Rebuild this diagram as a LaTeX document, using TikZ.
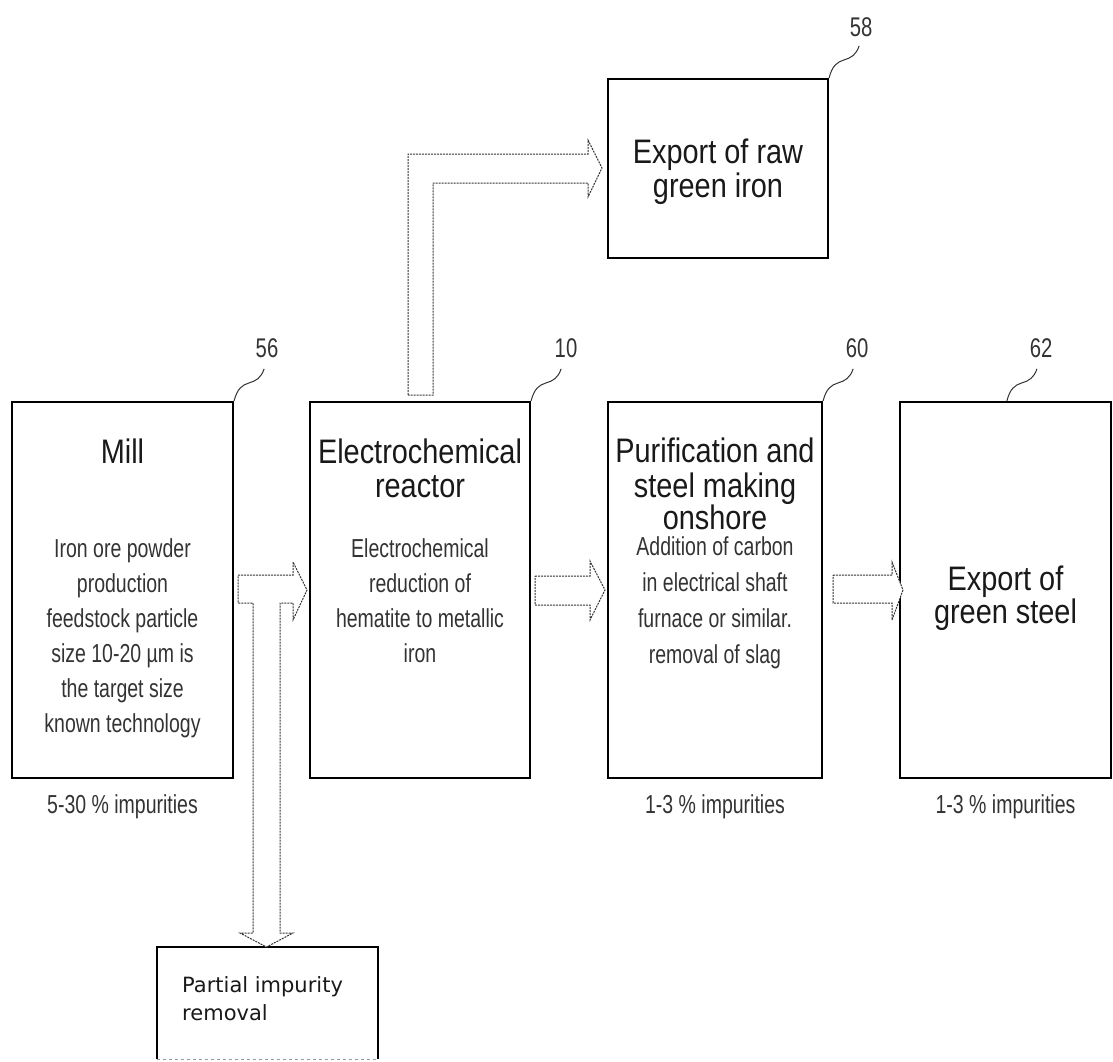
\documentclass[tikz,border=0pt]{standalone}
\usepackage{fontspec}
\setmainfont{Liberation Sans}
\newfontfamily\ttlfont[FakeStretch=0.85]{Liberation Sans}
\newfontfamily\subfnt[FakeStretch=0.75]{Liberation Sans}
\newfontfamily\verdfont{DejaVu Sans}
\usetikzlibrary{calc}
\newcommand\squig[1]{%
  \draw[leader] (#1) .. controls ($(#1)+(3,-12)$) and ($(#1)+(8,-16)$) .. ($(#1)+(15,-18)$)
     .. controls ($(#1)+(22,-20)$) and ($(#1)+(27,-23)$) .. ($(#1)+(30,-32)$);}
\begin{document}
\begin{tikzpicture}[x=1pt,y=-1pt,
  box/.style={draw=black, line width=2.2pt, inner sep=0pt},
  ttl/.style={font=\ttlfont\fontsize{34}{34}\selectfont, text=black!90, anchor=base, inner sep=0pt},
  sub/.style={font=\subfnt\fontsize{26}{26}\selectfont, text=black!80, anchor=base, inner sep=0pt},
  num/.style={font=\subfnt\fontsize{27}{27}\selectfont, text=black!80, inner sep=0pt},
  blockarrow/.style={draw=black!80, line width=1pt, dash pattern=on 2pt off 1pt, fill=white},
  leader/.style={draw=black!80, line width=1pt}]
\useasboundingbox (0,0) rectangle (1113,1061);

% boxes
\node[box, minimum width=221pt, minimum height=376pt] (mill) at (122.5,590) {};
\node[box, minimum width=220pt, minimum height=376pt] (reactor) at (420,590) {};
\node[box, minimum width=214pt, minimum height=376pt] (purif) at (715,590) {};
\node[box, minimum width=211pt, minimum height=376pt] (steel) at (1005.5,590) {};
\node[box, minimum width=220pt, minimum height=179pt] (rawiron) at (718,168.5) {};
\node[inner sep=0pt, minimum width=221pt, minimum height=112pt] (partial) at (267.5,1003) {};
\draw[line width=2.2pt] (partial.south west) -- (partial.north west) -- (partial.north east) -- (partial.south east);
\draw[line width=0.6pt, black!40, dashed] (partial.south west) -- (partial.south east);

% titles
\node[ttl] (t-mill) at (122.5,463) {Mill};
\node[ttl] (t-re1) at (420,463) {Electrochemical};
\node[ttl] (t-re2) at (420,497) {reactor};
\node[ttl] (t-pu1) at (715,462) {Purification and};
\node[ttl] (t-pu2) at (715,497) {steel making};
\node[ttl] (t-pu3) at (715,529) {onshore};
\node[ttl] (t-st1) at (1005.5,590) {Export of};
\node[ttl] (t-st2) at (1005.5,623) {green steel};
\node[ttl] (t-ri1) at (718,163) {Export of raw};
\node[ttl] (t-ri2) at (718,197) {green iron};

% sub texts
\foreach \t [count=\i] in {Iron ore powder, production, feedstock particle, size 10-20 µm is, the target size, known technology}
  \node[sub] (s-mill\i) at (122.5,557+35*\i-35) {\t};
\foreach \t [count=\i] in {Electrochemical, reduction of, hematite to metallic, iron}
  \node[sub] (s-re\i) at (420,557+35*\i-35) {\t};
\foreach \t [count=\i] in {Addition of carbon, in electrical shaft, {furnace or similar.}, removal of slag}
  \node[sub] (s-pu\i) at (715,555+36*\i-36) {\t};

\node[sub] (imp-mill) at (122.5,813) {5-30 \% impurities};
\node[sub] (imp-pu) at (715,813) {1-3 \% impurities};
\node[sub] (imp-st) at (1005.5,813) {1-3 \% impurities};

\node[font=\verdfont\fontsize{21}{28}\selectfont, text=black!90, anchor=base west, inner sep=0pt] (p1) at (182,992) {Partial impurity};
\node[font=\verdfont\fontsize{21}{28}\selectfont, text=black!90, anchor=base west, inner sep=0pt] (p2) at (182,1020) {removal};

% reference numbers and leaders
\node[num] (n56) at (267,348) {56};
\node[num] (n10) at (566,348) {10};
\node[num] (n60) at (857,348) {60};
\node[num] (n62) at (1041,348) {62};
\node[num] (n58) at (861,27) {58};
\coordinate (s62) at ($(steel.north west)+(108,0)$);
\squig{mill.north east}
\squig{reactor.north east}
\squig{purif.north east}
\squig{s62}
\squig{rawiron.north east}

% block arrows
\draw[blockarrow] (238,575) -- (293,575) -- (293,562) -- (307,590) -- (293,620) -- (293,603)
  -- (280,603) -- (280,933) -- (293,933) -- (266.5,947) -- (240,933) -- (253,933) -- (253,603)
  -- (238,603) -- cycle;
\draw[blockarrow] (535,576) -- (590,576) -- (590,561) -- (605,590) -- (590,620) -- (590,605)
  -- (535,605) -- cycle;
\draw[blockarrow] (833,575) -- (892,575) -- (892,562) -- (903,590) -- (892,620) -- (892,603)
  -- (833,603) -- cycle;
\draw[blockarrow] (408,395) -- (408,154) -- (588,154) -- (588,140) -- (602,168) -- (588,197)
  -- (588,183) -- (433,183) -- (433,395) -- cycle;
\end{tikzpicture}
\end{document}
